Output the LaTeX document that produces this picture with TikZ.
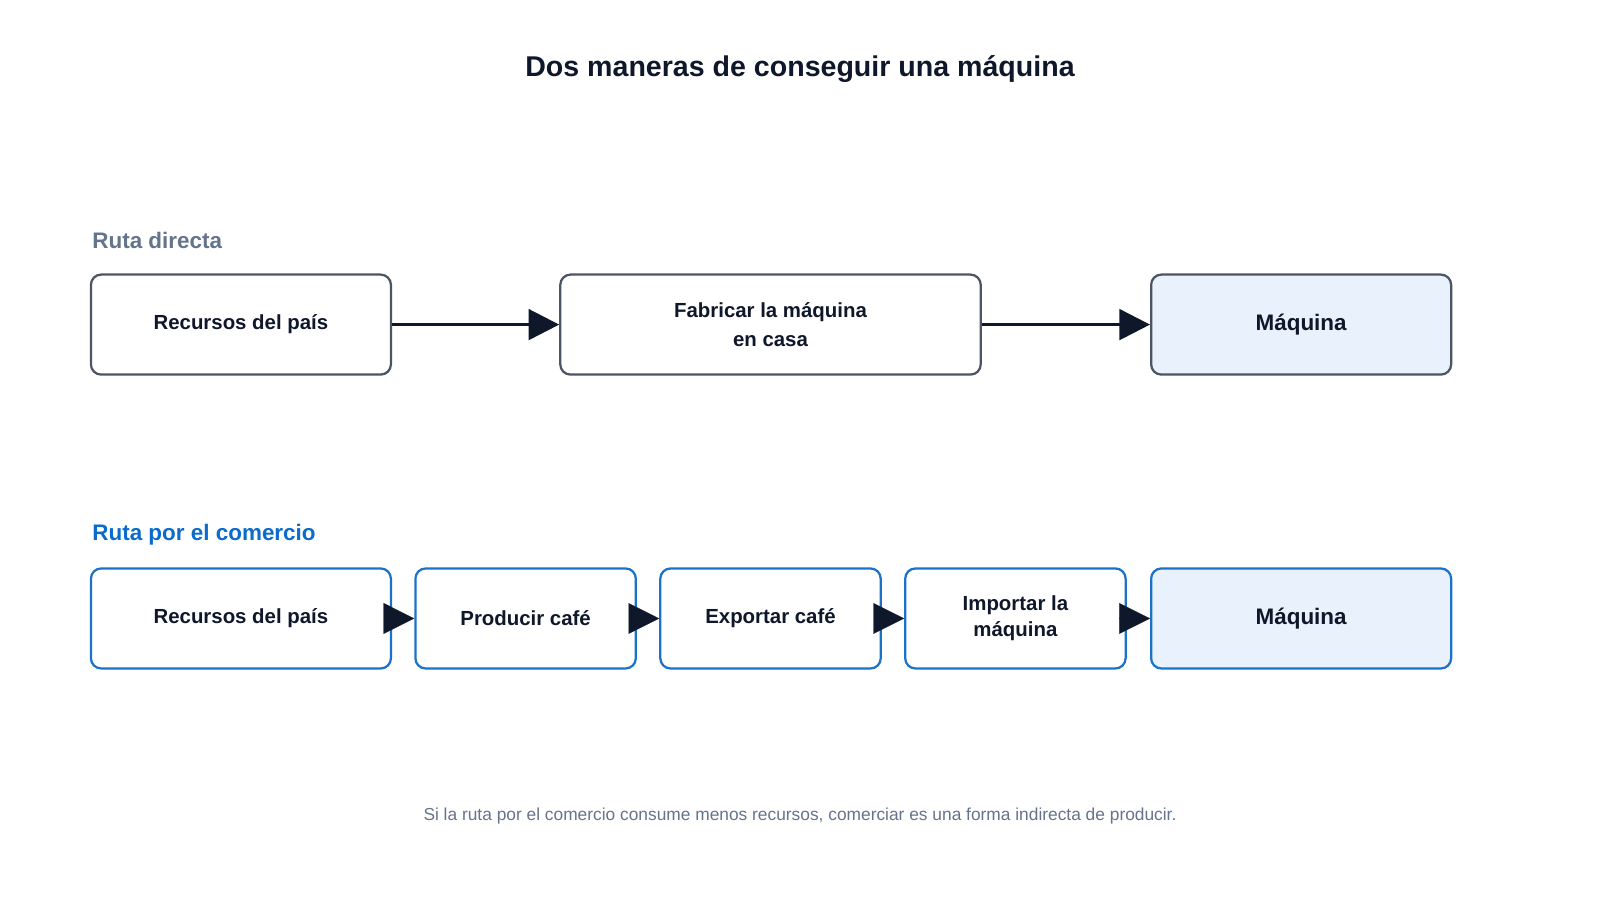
\documentclass[tikz,border=0pt]{standalone}
\usepackage{fontspec}
\setmainfont{Liberation Sans}
\usetikzlibrary{arrows.meta}
\definecolor{ink}{HTML}{0F172A}
\definecolor{grayc}{HTML}{64748B}
\definecolor{bord}{HTML}{4B5563}
\definecolor{bluec}{HTML}{0B6BCB}
\definecolor{bbord}{HTML}{1A73C8}
\definecolor{lfill}{HTML}{E8F1FC}
\begin{document}
\begin{tikzpicture}[x=1pt,y=-1pt,
  box/.style={draw=bord,line width=2.2pt,rounded corners=10pt,fill=white,inner sep=0pt,align=center,
    font=\fontsize{20}{29}\selectfont\bfseries,text=ink,anchor=north west},
  bbox/.style={box,draw=bbord},
  goal/.style={fill=lfill,font=\fontsize{22}{29}\selectfont\bfseries},
  arr/.style={draw=ink,line width=3pt,-{Triangle[length=30pt,width=30pt]}},
  tip/.style={draw=ink,line width=0.1pt,-{Triangle[length=30pt,width=30pt]}}]
\useasboundingbox (0,0) rectangle (1568,882);
\node[font=\fontsize{28}{34}\selectfont\bfseries,text=ink] (title) at (784,68) {Dos maneras de conseguir una máquina};
\node[font=\fontsize{22}{26}\selectfont\bfseries,text=grayc,anchor=west] (l1) at (87,236) {Ruta directa};
\node[box,minimum width=294pt,minimum height=98pt] (a1) at (88,268) {Recursos del país};
\node[box,minimum width=412pt,minimum height=98pt] (a2) at (548,268) {Fabricar la máquina\\en casa};
\node[box,goal,minimum width=294pt,minimum height=98pt] (a3) at (1127,268) {Máquina};
\draw[arr] (a1.east) -- (a2.west);
\draw[arr] (a2.east) -- (a3.west);
\node[font=\fontsize{22}{26}\selectfont\bfseries,text=bluec,anchor=west] (l2) at (87,524) {Ruta por el comercio};
\node[bbox,minimum width=294pt,minimum height=98pt] (b1) at (88,556) {Recursos del país};
\node[bbox,minimum width=216pt,minimum height=98pt] (b2) at (406,556) {Producir café};
\node[bbox,minimum width=216pt,minimum height=98pt] (b3) at (646,556) {Exportar café};
\node[bbox,minimum width=216pt,minimum height=98pt,font=\fontsize{20}{25}\selectfont\bfseries] (b4) at (886,556) {Importar la\\máquina};
\node[bbox,goal,minimum width=294pt,minimum height=98pt] (b5) at (1127,556) {Máquina};
\foreach \p/\q in {b1/b2,b2/b3,b3/b4,b4/b5}
  \draw[tip] ([xshift=-6pt]\p.east) -- (\q.west);
\node[font=\fontsize{17}{20}\selectfont,text=grayc] (foot) at (784,800) {Si la ruta por el comercio consume menos recursos, comerciar es una forma indirecta de producir.};
\end{tikzpicture}
\end{document}
